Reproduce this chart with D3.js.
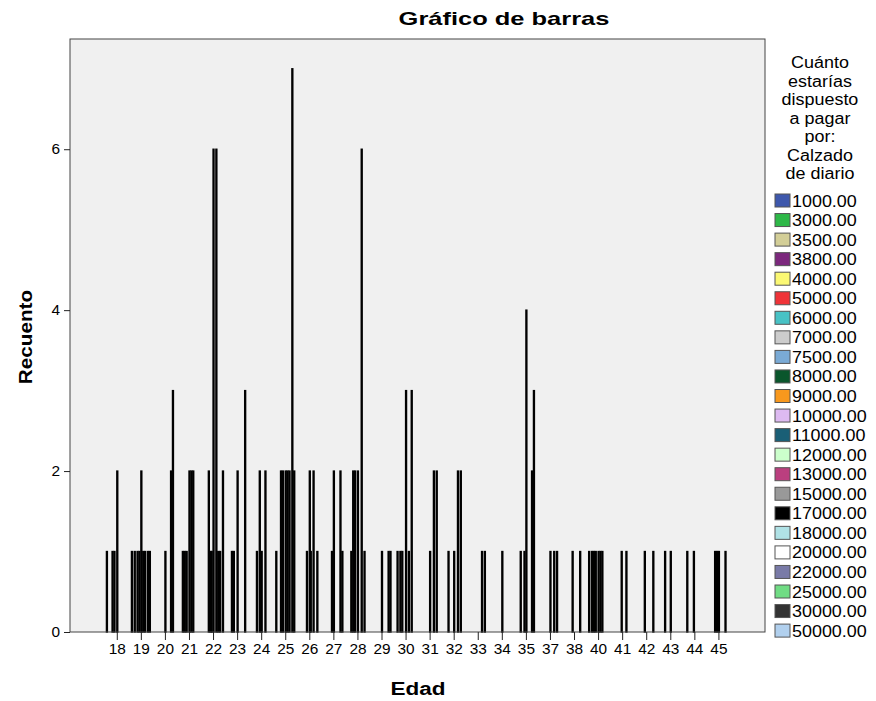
<!DOCTYPE html>
<html>
<head>
<meta charset="utf-8">
<script src="https://cdn.jsdelivr.net/npm/d3@7/dist/d3.min.js"></script>
<style>
  body { margin: 0; background: #fff; }
  text { font-family: "Liberation Sans", Arial, sans-serif; fill: #000; }
</style>
</head>
<body>
<svg id="chart" width="876" height="701"></svg>
<script>
// Age categories on the x axis
const ages = ["18","19","20","21","22","23","24","25","26","27","28","29","30",
              "31","32","33","34","35","37","38","40","41","42","43","44","45"];

// Price groups (legend order) and their swatch colours
const priceLabels = ["1000.00","3000.00","3500.00","3800.00","4000.00","5000.00","6000.00",
  "7000.00","7500.00","8000.00","9000.00","10000.00","11000.00","12000.00","13000.00",
  "15000.00","17000.00","18000.00","20000.00","22000.00","25000.00","30000.00","50000.00"];
const priceColors = ["#3e58ac","#2eb848","#d3ce97","#7c287d","#fbf873","#ef3338","#48c2c5",
  "#cccccc","#7aaad5","#0a562c","#f8981d","#ddbaf1","#1a5f76","#ccffcc","#bb3f7f",
  "#999999","#000000","#b0e2e6","#ffffff","#797aa7","#70dc84","#333333","#b1d0ee"];

// Counts per price group, one value per age category
const pay1000  = [1,0,0,0,0,0,0,0,0,0,0,0,0,0,0,0,0,0,0,0,0,0,0,0,0,0];
const pay3000  = [0,1,0,0,0,0,0,1,0,0,0,0,0,0,0,0,0,0,0,0,1,0,0,0,0,0];
const pay3500  = [0,0,0,0,0,0,0,0,0,0,0,0,1,0,0,0,0,0,0,0,0,0,0,0,0,0];
const pay3800  = [0,0,0,0,0,0,0,0,0,0,0,0,0,0,0,0,0,0,0,0,0,0,0,0,1,0];
const pay4000  = [0,1,0,1,0,0,0,0,0,0,1,0,0,0,0,0,0,0,0,0,1,0,0,0,0,0];
const pay5000  = [0,0,0,0,0,1,0,0,0,0,0,0,1,0,1,0,0,1,0,0,0,0,0,1,0,0];
const pay6000  = [1,0,0,1,2,0,1,2,0,0,2,0,0,0,0,0,0,0,0,0,1,0,0,0,0,0];
const pay7000  = [0,1,0,0,0,1,0,0,0,0,0,0,1,0,0,0,0,0,0,0,0,0,0,0,0,1];
const pay7500  = [1,0,0,1,1,0,0,2,1,0,2,0,0,0,0,0,0,0,0,0,1,0,0,0,0,0];
const pay8000  = [0,1,0,0,1,0,2,0,0,1,0,0,0,0,0,0,0,1,0,1,0,0,1,0,0,1];
const pay9000  = [0,0,0,0,0,0,0,0,0,0,0,0,0,0,0,0,0,0,0,0,0,1,0,0,1,0];
const pay10000 = [2,2,1,2,6,2,1,2,2,2,2,1,3,1,1,0,1,4,1,0,1,0,0,1,0,1];
const pay11000 = [0,0,0,0,0,0,0,0,1,0,0,0,0,0,0,0,0,0,0,0,0,0,0,0,0,0];
const pay12000 = [0,1,0,2,0,0,0,2,0,0,0,0,0,0,0,0,0,0,0,0,1,0,0,0,0,0];
const pay13000 = [0,0,0,0,6,0,0,0,0,0,0,0,1,0,0,0,0,0,0,0,0,0,0,0,0,0];
const pay15000 = [0,1,0,2,0,0,2,2,2,0,6,0,0,2,2,1,0,0,1,0,1,1,0,0,0,0];
const pay17000 = [0,0,0,0,1,0,0,0,0,0,0,0,0,0,0,0,0,0,0,0,0,0,0,0,0,0];
const pay18000 = [0,0,2,0,0,0,0,0,0,0,0,0,3,0,0,0,0,2,0,1,0,0,0,0,0,0];
const pay20000 = [0,1,0,0,1,0,0,7,0,2,1,1,0,2,2,1,0,0,1,0,0,0,1,0,0,1];
const pay22000 = [0,0,3,0,0,3,0,0,1,0,0,0,0,0,0,0,0,3,0,0,0,0,0,0,0,0];
const pay25000 = [0,1,0,0,0,0,0,2,0,1,0,1,0,0,0,0,0,0,0,0,0,0,0,0,0,0];
const pay30000 = [0,0,0,0,2,0,0,0,0,0,0,0,0,0,0,0,0,0,0,0,0,0,0,0,0,0];
const pay50000 = [0,0,0,0,0,0,0,0,0,0,0,0,0,0,0,0,0,0,0,0,0,0,0,0,0,0];

const seriesValues = [pay1000,pay3000,pay3500,pay3800,pay4000,pay5000,pay6000,pay7000,
  pay7500,pay8000,pay9000,pay10000,pay11000,pay12000,pay13000,pay15000,pay17000,
  pay18000,pay20000,pay22000,pay25000,pay30000,pay50000];

const yTicks = [0, 2, 4, 6];
const legendTitle = ["Cuánto","estarías","dispuesto","a pagar","por:","Calzado","de diario"];

const svg = d3.select("#chart");
const frame = { left: 70, top: 39, right: 765, bottom: 632 };

// Stretch text horizontally by a factor of its natural width
function widen(sel, factor) {
  sel.each(function () {
    const w = this.getComputedTextLength();
    d3.select(this).attr("textLength", w * factor).attr("lengthAdjust", "spacingAndGlyphs");
  });
}

const x = d3.scaleBand().domain(ages)
  .range([frame.left + 0.6, frame.right + 0.6])
  .paddingInner(0).paddingOuter(1.44);
const inner = d3.scaleBand().domain(priceLabels).range([-10.85, 10.85]).padding(0);
const y = d3.scaleLinear().domain([0, 7.37]).range([frame.bottom, frame.top]);

// plot background
svg.append("rect")
  .attr("x", frame.left).attr("y", frame.top)
  .attr("width", frame.right - frame.left).attr("height", frame.bottom - frame.top)
  .attr("fill", "#f0f0f0");

// bars
const barData = [];
seriesValues.forEach((vals, s) => {
  vals.forEach((v, i) => {
    if (v > 0) barData.push({ age: ages[i], price: priceLabels[s], color: priceColors[s], value: v });
  });
});
svg.append("g").selectAll("rect").data(barData).join("rect")
  .attr("x", d => x(d.age) + x.bandwidth() / 2 + inner(d.price))
  .attr("width", inner.bandwidth())
  .attr("y", d => y(d.value))
  .attr("height", d => y(0) - y(d.value))
  .attr("fill", d => d.color)
  .attr("stroke", "#000")
  .attr("stroke-width", 1.4);

// frame
svg.append("rect")
  .attr("x", frame.left).attr("y", frame.top)
  .attr("width", frame.right - frame.left).attr("height", frame.bottom - frame.top)
  .attr("fill", "none").attr("stroke", "#444").attr("stroke-width", 1);

// y axis
const yAxis = svg.append("g")
  .attr("transform", `translate(${frame.left},0)`)
  .call(d3.axisLeft(y).tickValues(yTicks).tickFormat(d3.format("d")).tickSize(6).tickPadding(4));
yAxis.select(".domain").remove();
yAxis.selectAll("line").attr("stroke", "#222");
yAxis.selectAll("text").attr("font-size", 14).attr("fill", "#000")
  .style("font-family", '"Liberation Sans", Arial, sans-serif').call(widen, 1.1);

// x axis
const xAxis = svg.append("g")
  .attr("transform", `translate(0,${frame.bottom})`)
  .call(d3.axisBottom(x).tickSize(8).tickPadding(4));
xAxis.select(".domain").remove();
xAxis.selectAll("line").attr("stroke", "#222");
xAxis.selectAll("text").attr("font-size", 14).attr("fill", "#000")
  .style("font-family", '"Liberation Sans", Arial, sans-serif').call(widen, 1.1);

// title and axis titles
svg.append("text").attr("x", 504).attr("y", 25).attr("text-anchor", "middle")
  .attr("font-size", 19).attr("font-weight", "bold").text("Gráfico de barras").call(widen, 1.34);
svg.append("text").attr("x", 418).attr("y", 695).attr("text-anchor", "middle")
  .attr("font-size", 18).attr("font-weight", "bold").text("Edad").call(widen, 1.25);
svg.append("text").attr("transform", "translate(32,337) rotate(-90)").attr("text-anchor", "middle")
  .attr("font-size", 18).attr("font-weight", "bold").text("Recuento").call(widen, 1.15);

// legend
const legend = svg.append("g");
legend.selectAll("text.lt").data(legendTitle).join("text").attr("class", "lt")
  .attr("x", 820).attr("y", (d, i) => 68 + i * 18.5)
  .attr("text-anchor", "middle").attr("font-size", 16).text(d => d).call(widen, 1.12);
const item = legend.selectAll("g.item").data(priceLabels).join("g").attr("class", "item")
  .attr("transform", (d, i) => `translate(775,${194 + i * 19.55})`);
item.append("rect").attr("width", 15).attr("height", 13)
  .attr("fill", (d, i) => priceColors[i]).attr("stroke", "#555").attr("stroke-width", 1);
item.append("text").attr("x", 17).attr("y", 12.5).attr("font-size", 16).text(d => d).call(widen, 1.12);
</script>
</body>
</html>
